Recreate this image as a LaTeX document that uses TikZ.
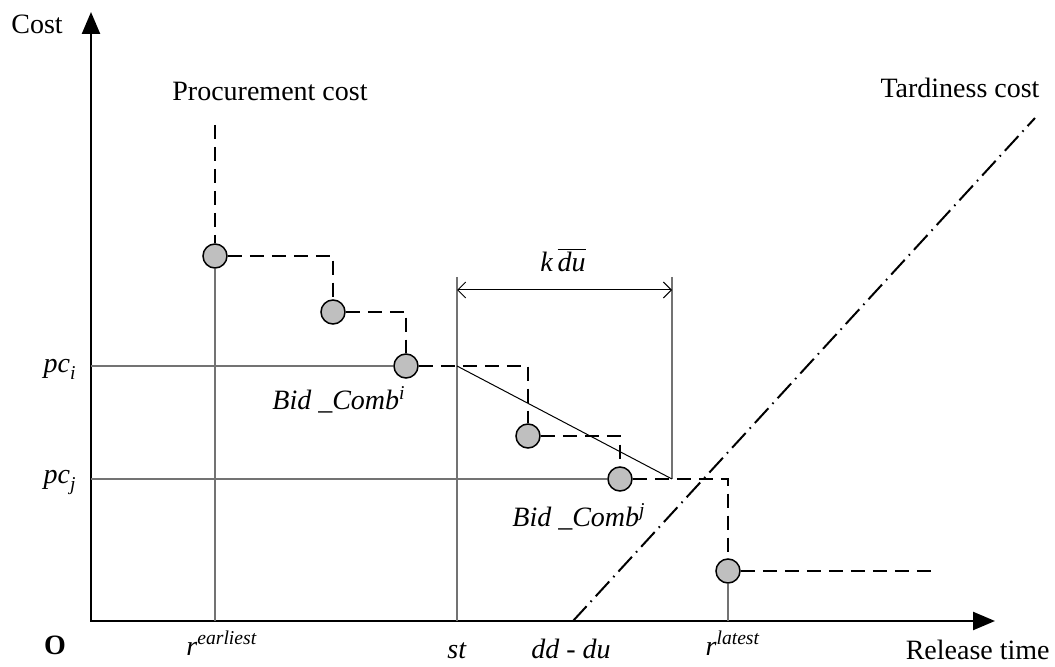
\documentclass[tikz,border=0pt]{standalone}
\usepackage{fontspec}
\setmainfont{Liberation Serif}
\usetikzlibrary{arrows.meta}

\begin{document}
\begin{tikzpicture}[x=0.5pt,y=-0.5pt]
                \tikzstyle{bid}=[circle, draw, fill=black!25, line width=0.75pt, inner sep=0pt, minimum size=12pt]
                \tikzstyle{curve}=[dash pattern=on 7pt off 4pt, line width=1pt]
                \tikzstyle{guide}=[draw=black!55, line width=0.7pt]
                \tikzstyle{txt}=[font=\fontsize{14}{17}\selectfont, inner sep=0pt]

                \useasboundingbox (0,0) rectangle (1055,667);

                \coordinate (yend) at (91,12);
                \coordinate (o) at (91,621);
                \coordinate (xend) at (995,621);
                \draw[line width=1.2pt, {Triangle[length=11pt,width=9pt]}-{Triangle[length=11pt,width=9pt]}] (yend) -- (o) -- (xend);

                \node[bid] (b1) at (215,256) {};
                \node[bid] (b2) at (333,312) {};
                \node[bid] (b3) at (406,366) {};
                \node[bid] (b4) at (528,436) {};
                \node[bid] (b5) at (620,479) {};
                \node[bid] (b6) at (728,571) {};

                \coordinate (pci) at (91,366);
                \coordinate (pcj) at (91,479);
                \coordinate (sttop) at (457,277);
                \coordinate (stbot) at (457,621);
                \coordinate (kdutop) at (672,277);
                \coordinate (kdubot) at (672,479);
                \coordinate (stcut) at (457,366);
                \coordinate (top) at (215,125);
                \coordinate (tail) at (938,571);
                \coordinate (ddu) at (573,621);
                \coordinate (tardy) at (1035,118);

                \draw[guide] (pci) -- (b3);
                \draw[guide] (pcj) -- (b5);
                \draw[guide] (b1) -- (b1 |- o);
                \draw[guide] (b6) -- (b6 |- o);
                \draw[guide] (sttop) -- (stbot);
                \draw[guide] (kdutop) -- (kdubot);
                \draw[line width=0.5pt] (stcut) -- (kdubot);
                \draw[line width=0.5pt, {Straight Barb[length=4pt]}-{Straight Barb[length=4pt]}] (457,290) -- (672,290);

                \draw[curve] (top) -- (b1) -- (b1 -| b2) -- (b2) -- (b2 -| b3) -- (b3) -- (b3 -| b4) -- (b4)
                    -- (b4 -| b5) -- (b5) -- (b5 -| b6) -- (b6) -- (tail);
                \draw[line width=1pt, dash pattern=on 10pt off 3pt on 0.8pt off 3pt] (ddu) -- (tardy);

                \node[txt] (cost) at (37,24) {Cost};
                \node[txt] (proc) at (270,91) {Procurement cost};
                \node[txt] (tard) at (960,88) {Tardiness cost};
                \node[txt, anchor=base east] (lpci) at (77,373) {$\mathit{pc}_{\mathit{i}}$};
                \node[txt, anchor=base east] (lpcj) at (77,484) {$\mathit{pc}_{\mathit{j}}$};
                \node[txt, anchor=base west] (bci) at (272,410) {\textit{Bid \_Comb}\textsuperscript{\textit{i}}};
                \node[txt, anchor=base west] (bcj) at (512,527) {\textit{Bid \_Comb}\textsuperscript{\textit{j}}};
                \node[txt, anchor=base] (kdu) at (563,272) {$\mathit{k}\,\overline{\mathit{du}}$};
                \node[txt, font=\fontsize{14}{17}\selectfont\bfseries] (orig) at (55,645) {O};
                \node[txt, anchor=base] (rear) at (222,655) {\textit{r}\textsuperscript{\textit{earliest}}};
                \node[txt, anchor=base] (lst) at (457,659) {\textit{st}};
                \node[txt, anchor=base] (ldd) at (571,659) {\textit{dd} - \textit{du}};
                \node[txt, anchor=base] (rlat) at (733,655) {\textit{r}\textsuperscript{\textit{latest}}};
                \node[txt, anchor=base east] (rel) at (1050,660) {Release time};
\end{tikzpicture}
\end{document}
